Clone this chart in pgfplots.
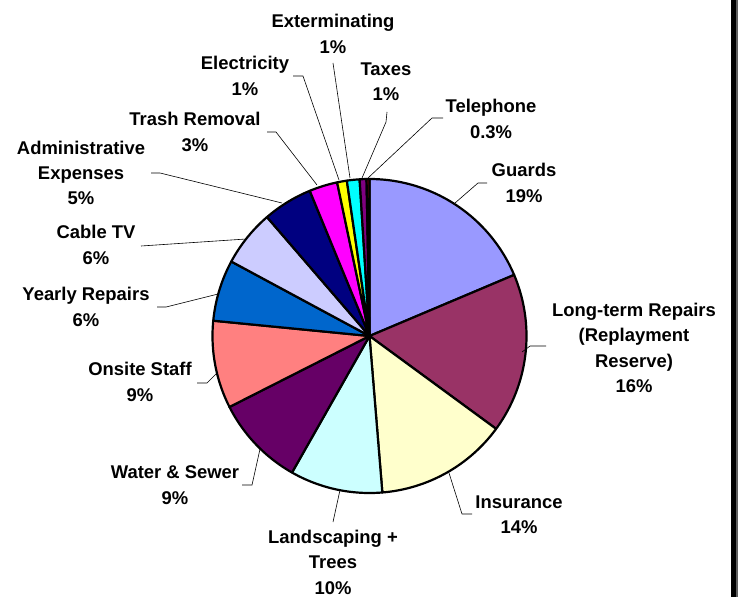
\documentclass[border=0pt]{standalone}
\usepackage{fontspec}
\setmainfont{Liberation Sans}
\usepackage{pgfplots}
\pgfplotsset{compat=1.18}
\definecolor{cA}{HTML}{9999FF}
\definecolor{cB}{HTML}{993366}
\definecolor{cC}{HTML}{FFFFCC}
\definecolor{cD}{HTML}{CCFFFF}
\definecolor{cE}{HTML}{660066}
\definecolor{cF}{HTML}{FF8080}
\definecolor{cG}{HTML}{0066CC}
\definecolor{cH}{HTML}{CCCCFF}
\definecolor{cI}{HTML}{000080}
\definecolor{cJ}{HTML}{FF00FF}
\definecolor{cK}{HTML}{FFFF00}
\definecolor{cL}{HTML}{00FFFF}
\definecolor{cM}{HTML}{800080}
\definecolor{cN}{HTML}{800000}
\definecolor{frameGray}{HTML}{606060}
\tikzset{lab/.style={align=center, inner sep=0pt, font=\fontsize{18.5}{25.5}\selectfont\bfseries}}
\begin{document}
\begin{tikzpicture}
\begin{axis}[width=738bp, height=597bp, scale only axis,
  xmin=0, xmax=738, ymin=0, ymax=597, y dir=reverse,
  hide axis, clip=false]
% slice shares (percent), clockwise from 12 o'clock
\gdef\pieA{0}
\foreach \v/\c in {18.6/cA, 16.4/cB, 13.6/cC, 9.5/cD, 9.3/cE, 9.0/cF, 6.3/cG, 5.8/cH, 5.1/cI, 2.9/cJ, 1.0/cK, 1.3/cL, 0.7/cM, 0.3/cN}{
  \pgfmathsetmacro\pieB{\pieA+360*\v/99.8}
  \edef\temp{\noexpand\addplot[fill=\c, draw=black, line width=2.2bp, line join=round, domain=\pieA:\pieB, samples=80] ({369.5+157*sin(x)},{336-157*cos(x)}) -- (axis cs:369.5,336) -- cycle;}
  \temp
  \global\let\pieA\pieB
}
% leader lines
\addplot[black, line width=0.6bp] coordinates {(455,203) (478,183) (487,183)};
\addplot[black, line width=0.6bp] coordinates {(522,352) (530,346) (546,346)};
\addplot[black, line width=0.6bp] coordinates {(449,473) (462,514) (472,514)};
\addplot[black, line width=0.6bp] coordinates {(340,490) (333,522)};
\addplot[black, line width=0.6bp] coordinates {(260,449) (252,485) (242,485)};
\addplot[black, line width=0.6bp] coordinates {(218,372) (207,383) (197,383)};
\addplot[black, line width=0.6bp] coordinates {(218,294) (166,307) (157,307)};
\addplot[black, line width=0.6bp] coordinates {(246,239) (141,246)};
\addplot[black, line width=0.6bp] coordinates {(282,203) (160,173) (151,173)};
\addplot[black, line width=0.6bp] coordinates {(317,185) (276,132) (267,132)};
\addplot[black, line width=0.6bp] coordinates {(339,180) (303,76) (293,76)};
\addplot[black, line width=0.6bp] coordinates {(350,178) (333,63)};
\addplot[black, line width=0.6bp] coordinates {(362,178) (386,122) (387,112)};
\addplot[black, line width=0.6bp] coordinates {(368,178) (432,118) (443,118)};
% labels
\node[lab] at (axis cs:333,34) {Exterminating\\1\%};
\node[lab] at (axis cs:245,76) {Electricity\\1\%};
\node[lab] at (axis cs:386,82) {Taxes\\1\%};
\node[lab] at (axis cs:491,119) {Telephone\\0.3\%};
\node[lab] at (axis cs:195,132) {Trash Removal\\3\%};
\node[lab] at (axis cs:81,173) {Administrative\\Expenses\\5\%};
\node[lab] at (axis cs:96,245) {Cable TV\\6\%};
\node[lab] at (axis cs:86,307) {Yearly Repairs\\6\%};
\node[lab] at (axis cs:140,382) {Onsite Staff\\9\%};
\node[lab] at (axis cs:175,485) {Water \& Sewer\\9\%};
\node[lab] at (axis cs:333,562) {Landscaping +\\Trees\\10\%};
\node[lab] at (axis cs:519,515) {Insurance\\14\%};
\node[lab] at (axis cs:634,348) {Long-term Repairs\\(Replayment\\Reserve)\\16\%};
\node[lab] at (axis cs:524,183) {Guards\\19\%};
% chart frame edge at right
\fill[black] (axis cs:731,0) rectangle (axis cs:735.5,597);
\fill[frameGray] (axis cs:735.5,0) rectangle (axis cs:738,597);
\end{axis}
\pgfresetboundingbox
\path (current axis.south west) rectangle (current axis.north east);
\end{tikzpicture}
\end{document}
